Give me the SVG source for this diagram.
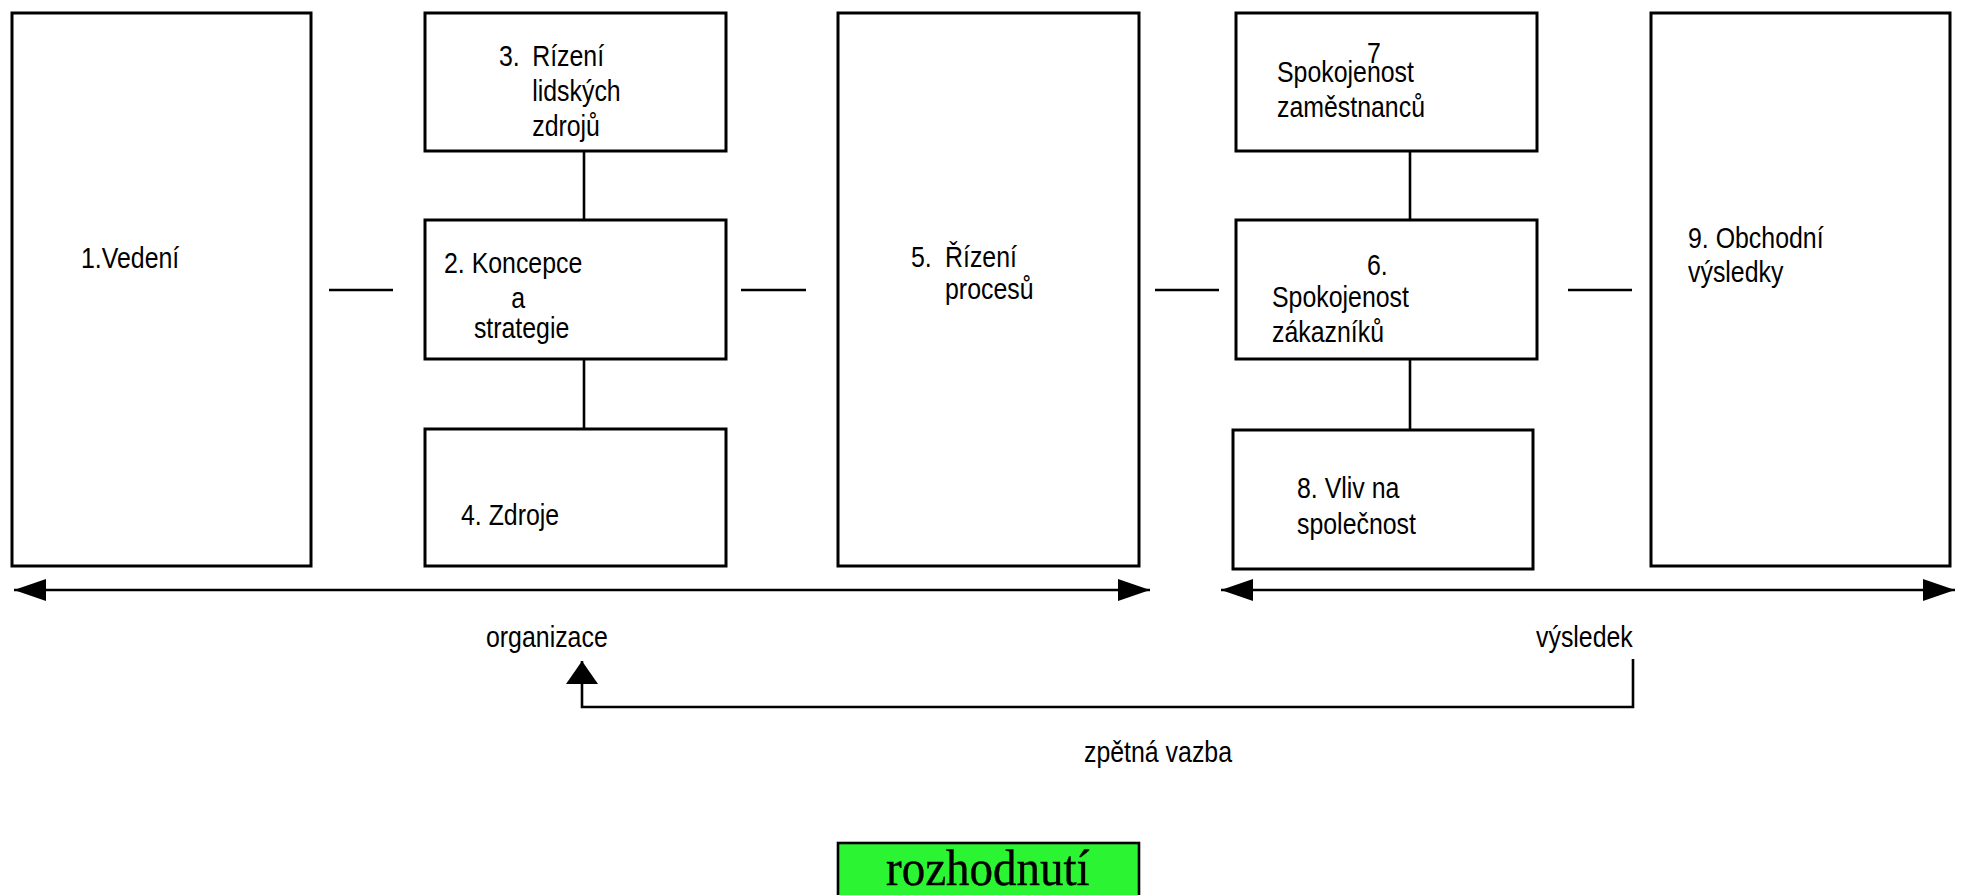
<svg xmlns="http://www.w3.org/2000/svg" width="1961" height="895" viewBox="0 0 1961 895">
<style>
.box{fill:#fff;stroke:#000;stroke-width:3}
.ln{fill:none;stroke:#000;stroke-width:2.6}
.t{font-family:"Liberation Sans",Arial,sans-serif;font-size:30px;fill:#000}
.s{font-family:"Liberation Serif","Times New Roman",serif;font-size:50px;fill:#000}
</style>
<defs>
<marker id="ah" viewBox="0 0 32 22" markerWidth="32" markerHeight="22" refX="32" refY="11" markerUnits="userSpaceOnUse" orient="auto-start-reverse"><path d="M0,0 L32,11 L0,22 z" fill="#000"/></marker>
<marker id="au" viewBox="0 0 23 32" markerWidth="23" markerHeight="32" refX="23" refY="16" markerUnits="userSpaceOnUse" orient="auto"><path d="M0,0 L23,16 L0,32 z" fill="#000"/></marker>
</defs>
<rect width="1961" height="895" fill="#fff"/>
<g id="connectors">
<line class="ln" x1="329" y1="290" x2="393" y2="290"/>
<line class="ln" x1="741" y1="290" x2="806" y2="290"/>
<line class="ln" x1="1155" y1="290" x2="1219" y2="290"/>
<line class="ln" x1="1568" y1="290" x2="1632" y2="290"/>
<line class="ln" x1="584" y1="151" x2="584" y2="220"/>
<line class="ln" x1="584" y1="359" x2="584" y2="429"/>
<line class="ln" x1="1410" y1="151" x2="1410" y2="220"/>
<line class="ln" x1="1410" y1="359" x2="1410" y2="430"/>
<line class="ln" x1="14" y1="590" x2="1150" y2="590" marker-start="url(#ah)" marker-end="url(#ah)"/>
<line class="ln" x1="1221" y1="590" x2="1955" y2="590" marker-start="url(#ah)" marker-end="url(#ah)"/>
<path class="ln" d="M1633,659 V707 H582 V661" marker-end="url(#au)"/>
</g>
<g id="n1"><rect class="box" x="12" y="13" width="299" height="553"/>
<text class="t" transform="translate(81,268) scale(0.83,1)">1.Vedení</text></g>
<g id="n3"><rect class="box" x="425" y="13" width="301" height="138"/>
<text class="t" transform="translate(499,66) scale(0.83,1)"><tspan x="0">3.</tspan><tspan x="40">Rízení</tspan><tspan x="40" y="35">lidských</tspan><tspan x="40" y="70">zdrojů</tspan></text></g>
<g id="n2"><rect class="box" x="425" y="220" width="301" height="139"/>
<text class="t" transform="translate(444,273) scale(0.83,1)"><tspan x="0">2. Koncepce</tspan><tspan x="81" y="35">a</tspan><tspan x="36" y="65">strategie</tspan></text></g>
<g id="n4"><rect class="box" x="425" y="429" width="301" height="137"/>
<text class="t" transform="translate(461,525) scale(0.83,1)">4. Zdroje</text></g>
<g id="n5"><rect class="box" x="838" y="13" width="301" height="553"/>
<text class="t" transform="translate(911,267) scale(0.83,1)"><tspan x="0">5.</tspan><tspan x="41">Řízení</tspan><tspan x="41" y="32">procesů</tspan></text></g>
<g id="n7"><rect class="box" x="1236" y="13" width="301" height="138"/>
<text class="t" transform="translate(1367,63) scale(0.83,1)">7</text>
<text class="t" transform="translate(1277,82) scale(0.83,1)"><tspan x="0">Spokojenost</tspan><tspan x="0" y="35">zaměstnanců</tspan></text></g>
<g id="n6"><rect class="box" x="1236" y="220" width="301" height="139"/>
<text class="t" transform="translate(1367,275) scale(0.83,1)">6.</text>
<text class="t" transform="translate(1272,307) scale(0.83,1)"><tspan x="0">Spokojenost</tspan><tspan x="0" y="35">zákazníků</tspan></text></g>
<g id="n8"><rect class="box" x="1233" y="430" width="300" height="139"/>
<text class="t" transform="translate(1297,498) scale(0.83,1)"><tspan x="0">8. Vliv na</tspan><tspan x="0" y="36">společnost</tspan></text></g>
<g id="n9"><rect class="box" x="1651" y="13" width="299" height="553"/>
<text class="t" transform="translate(1688,248) scale(0.83,1)"><tspan x="0">9. Obchodní</tspan><tspan x="0" y="34">výsledky</tspan></text></g>
<g id="labels">
<text class="t" transform="translate(486,647) scale(0.83,1)">organizace</text>
<text class="t" transform="translate(1536,647) scale(0.83,1)">výsledek</text>
<text class="t" transform="translate(1084,762) scale(0.83,1)">zpětná vazba</text>
</g>
<g id="rozhodnuti"><rect x="838" y="843" width="301" height="60" fill="#2BF533" stroke="#000" stroke-width="2.6"/>
<text class="s" transform="translate(886,885) scale(0.94,1)" stroke="#000" stroke-width="0.4">rozhodnutí</text></g>
</svg>
